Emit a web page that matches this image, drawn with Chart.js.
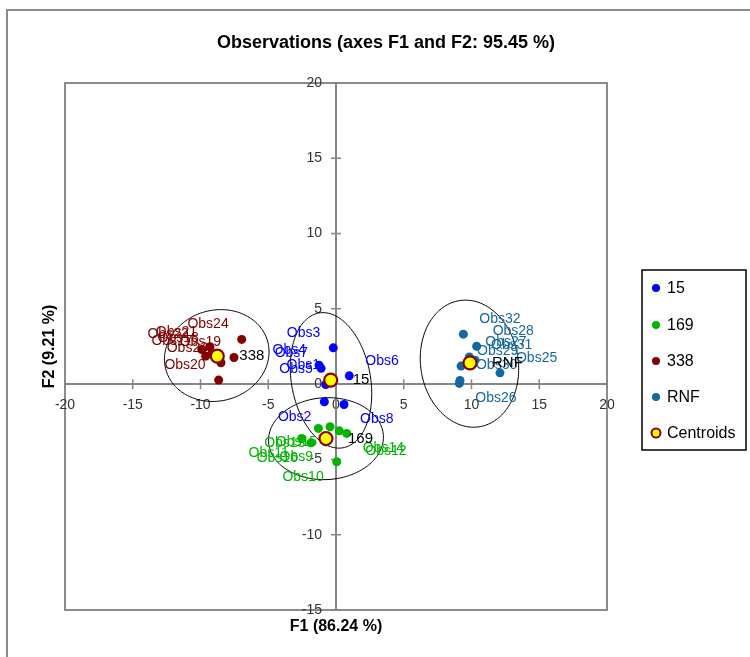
<!DOCTYPE html>
<html>
<head>
<meta charset="utf-8">
<script src="https://cdn.jsdelivr.net/npm/chart.js@4.4.1/dist/chart.umd.min.js"></script>
<style>
  html, body { margin: 0; padding: 0; background: #fff; }
  canvas { display: block; }
</style>
</head>
<body>
<canvas id="chart" width="750" height="657"></canvas>
<script>
// ---- Observations on the first two factorial axes (F1, F2) ----
const groupNames = ['15', '169', '338', 'RNF'];

const obs15 = ['Obs1', 'Obs2', 'Obs3', 'Obs4', 'Obs5', 'Obs6', 'Obs7', 'Obs8'];
const f1_15 = [-0.22, -0.86, -0.20, -1.25, -0.76, 0.98, -1.10, 0.59];
const f2_15 = [0.27, -1.17, 2.41, 1.25, -0.02, 0.55, 1.05, -1.35];

const obs169 = ['Obs9', 'Obs10', 'Obs11', 'Obs12', 'Obs13', 'Obs14', 'Obs15', 'Obs16'];
const f1_169 = [-0.74, 0.05, -2.53, 0.24, -1.30, 0.79, -0.44, -1.85];
const f2_169 = [-3.85, -5.16, -3.61, -3.10, -2.94, -3.27, -2.83, -3.90];

const obs338 = ['Obs17', 'Obs18', 'Obs19', 'Obs20', 'Obs21', 'Obs22', 'Obs23', 'Obs24'];
const f1_338 = [-9.62, -9.17, -7.53, -8.66, -9.30, -9.91, -8.49, -6.96];
const f2_338 = [1.86, 2.04, 1.77, 0.27, 2.48, 2.30, 1.42, 2.97];

const obsRNF = ['Obs25', 'Obs26', 'Obs27', 'Obs28', 'Obs29', 'Obs30', 'Obs31', 'Obs32'];
const f1_RNF = [12.10, 9.10, 9.84, 10.38, 9.23, 9.15, 10.26, 9.40];
const f2_RNF = [0.75, 0.05, 1.81, 2.52, 1.20, 0.25, 1.59, 3.32];

// group centroids
const centroidF1 = [-0.39, -0.74, -8.76, 9.89];
const centroidF2 = [0.27, -3.61, 1.86, 1.41];

// confidence ellipses: centre and two conjugate half-axis vectors, in F1/F2 units
const ellipseC1 = [-0.37, -0.74, -8.80, 9.85];
const ellipseC2 = [0.25, -3.62, 1.90, 1.36];
const ellipseU1 = [-0.59, 4.24, 3.84, -0.30];
const ellipseU2 = [4.50, 0.10, 0.55, 4.22];
const ellipseV1 = [2.95, 0.00, -0.39, 3.62];
const ellipseV2 = [0.00, 2.72, 3.00, 0.00];

// axis ticks
const xTicks = [-20, -15, -10, -5, 0, 5, 10, 15, 20];
const yTicks = [-15, -10, -5, 0, 5, 10, 15, 20];

// where each observation label sits relative to its point
const place15  = ['ul', 'll', 'ul', 'ul', 'ul', 'ur', 'ul', 'lr'];
const place169 = ['ll', 'll', 'll', 'lrFar', 'll', 'lr', 'll', 'll'];
const place338 = ['ul', 'ul', 'ul', 'ul', 'ul', 'ul', 'ul', 'ul'];
const placeRNF = ['ur', 'lr', 'ur', 'ur', 'ur', 'ur', 'ur', 'ur'];

// ---- styling ----
const FONT = "'Liberation Sans', Arial, sans-serif";
const groupColors = ['#0000FF', '#00B400', '#800000', '#1468A0'];
const labelOffsets = {
  ul: [-13, -15, 'right'],
  ur: [16, -15, 'left'],
  ll: [-13, 15, 'right'],
  lr: [16, 15, 'left'],
  lrFar: [26, 20, 'left']
};
const AXIS_GREY = '#868686';
const TICK_TEXT = '#333';

const groups = [
  { names: obs15, f1: f1_15, f2: f2_15, place: place15 },
  { names: obs169, f1: f1_169, f2: f2_169, place: place169 },
  { names: obs338, f1: f1_338, f2: f2_338, place: place338 },
  { names: obsRNF, f1: f1_RNF, f2: f2_RNF, place: placeRNF }
];

const toPoints = (xs, ys) => xs.map((x, i) => ({ x, y: ys[i] }));

const datasets = groups.map((g, i) => ({
  label: groupNames[i],
  data: toPoints(g.f1, g.f2),
  backgroundColor: groupColors[i],
  borderColor: groupColors[i],
  pointRadius: 4.5,
  pointBorderWidth: 0,
  pointHoverRadius: 4.5,
  order: 0
}));
datasets.push({
  label: 'Centroids',
  data: toPoints(centroidF1, centroidF2),
  backgroundColor: '#FFFF00',
  borderColor: '#8B0000',
  pointRadius: 6.5,
  pointBorderWidth: 2.2,
  pointHoverRadius: 6.5,
  order: -1
});

const decorations = {
  id: 'decorations',
  beforeDraw(chart) {
    const { ctx, chartArea: a } = chart;
    ctx.save();
    ctx.fillStyle = '#fff';
    ctx.fillRect(0, 0, chart.width, chart.height);
    ctx.strokeStyle = '#8c8c8c';
    ctx.lineWidth = 2;
    ctx.strokeRect(7, 10, 900, 800);
    ctx.strokeRect(a.left, a.top, a.right - a.left, a.bottom - a.top);
    ctx.restore();
  },
  beforeDatasetsDraw(chart) {
    const { ctx } = chart;
    const sx = chart.scales.x, sy = chart.scales.y;
    const x0 = sx.getPixelForValue(0), y0 = sy.getPixelForValue(0);
    ctx.save();
    // tick marks crossing the axes
    ctx.strokeStyle = AXIS_GREY;
    ctx.lineWidth = 1.5;
    ctx.beginPath();
    sx.ticks.forEach(t => {
      const px = sx.getPixelForValue(t.value);
      ctx.moveTo(px, y0 - 5); ctx.lineTo(px, y0 + 5);
    });
    sy.ticks.forEach(t => {
      const py = sy.getPixelForValue(t.value);
      ctx.moveTo(x0 - 5, py); ctx.lineTo(x0 + 5, py);
    });
    ctx.stroke();
    // F2 tick labels, set to the left of the vertical axis
    ctx.fillStyle = TICK_TEXT;
    ctx.font = '14px ' + FONT;
    ctx.textAlign = 'right';
    ctx.textBaseline = 'middle';
    sy.ticks.forEach(t => {
      ctx.fillText(String(t.value), x0 - 14, sy.getPixelForValue(t.value));
    });
    // confidence ellipses
    ctx.strokeStyle = '#000';
    ctx.lineWidth = 1;
    for (let k = 0; k < ellipseC1.length; k++) {
      ctx.beginPath();
      for (let s = 0; s <= 180; s++) {
        const t = (s / 180) * Math.PI * 2;
        const fx = ellipseC1[k] + ellipseU1[k] * Math.cos(t) + ellipseV1[k] * Math.sin(t);
        const fy = ellipseC2[k] + ellipseU2[k] * Math.cos(t) + ellipseV2[k] * Math.sin(t);
        const px = sx.getPixelForValue(fx), py = sy.getPixelForValue(fy);
        if (s === 0) ctx.moveTo(px, py); else ctx.lineTo(px, py);
      }
      ctx.closePath();
      ctx.stroke();
    }
    ctx.restore();
  },
  afterDatasetsDraw(chart) {
    const { ctx } = chart;
    ctx.save();
    ctx.textBaseline = 'middle';
    // observation labels
    ctx.font = '14px ' + FONT;
    groups.forEach((g, i) => {
      const meta = chart.getDatasetMeta(i);
      ctx.fillStyle = groupColors[i];
      g.names.forEach((name, j) => {
        const p = meta.data[j];
        const [dx, dy, align] = labelOffsets[g.place[j]];
        ctx.textAlign = align;
        ctx.fillText(name, p.x + dx, p.y + dy);
      });
    });
    // centroid labels
    const cMeta = chart.getDatasetMeta(groups.length);
    ctx.font = '15px ' + FONT;
    ctx.fillStyle = '#000';
    ctx.textAlign = 'left';
    groupNames.forEach((name, i) => {
      const p = cMeta.data[i];
      ctx.fillText(name, p.x + 22, p.y);
    });
    ctx.restore();
  },
  afterDraw(chart) {
    const { ctx, chartArea: a } = chart;
    ctx.save();
    ctx.fillStyle = '#000';
    ctx.textAlign = 'center';
    ctx.textBaseline = 'middle';
    // titles
    ctx.font = 'bold 18px ' + FONT;
    ctx.fillText('Observations (axes F1 and F2: 95.45 %)', 386, 43);
    ctx.font = 'bold 16px ' + FONT;
    ctx.fillText('F1 (86.24 %)', (a.left + a.right) / 2, 627);
    ctx.save();
    ctx.translate(50, (a.top + a.bottom) / 2);
    ctx.rotate(-Math.PI / 2);
    ctx.fillText('F2 (9.21 %)', 0, 0);
    ctx.restore();

    // legend
    const lx = 642, ly = 270, lw = 104, lh = 180;
    ctx.strokeStyle = '#000';
    ctx.lineWidth = 1.5;
    ctx.strokeRect(lx, ly, lw, lh);
    const rowY = [288, 325, 361, 397, 433];
    ctx.textAlign = 'left';
    ctx.font = '16px ' + FONT;
    chart.data.datasets.forEach((ds, i) => {
      const y = rowY[i];
      ctx.beginPath();
      if (ds.label === 'Centroids') {
        ctx.arc(656, y, 4.5, 0, Math.PI * 2);
        ctx.fillStyle = ds.backgroundColor;
        ctx.fill();
        ctx.strokeStyle = ds.borderColor;
        ctx.lineWidth = 2;
        ctx.stroke();
      } else {
        ctx.arc(656, y, 4, 0, Math.PI * 2);
        ctx.fillStyle = ds.backgroundColor;
        ctx.fill();
      }
      ctx.fillStyle = '#000';
      ctx.fillText(ds.label, 667, y + 1);
    });
    ctx.restore();
  }
};

const tickFont = { family: FONT, size: 14 };

new Chart(document.getElementById('chart'), {
  type: 'scatter',
  data: { datasets },
  options: {
    responsive: false,
    animation: false,
    devicePixelRatio: 1,
    layout: { padding: { left: 65, top: 83, right: 143, bottom: 47 } },
    plugins: {
      legend: { display: false },
      title: { display: false },
      tooltip: { enabled: false }
    },
    events: [],
    scales: {
      x: {
        type: 'linear',
        position: { y: 0 },
        min: -20, max: 20,
        afterBuildTicks: scale => { scale.ticks = xTicks.map(v => ({ value: v })); },
        grid: { display: false, drawTicks: false },
        border: { display: true, color: AXIS_GREY, width: 2 },
        ticks: { color: TICK_TEXT, font: tickFont, padding: 13, maxRotation: 0, autoSkip: false }
      },
      y: {
        type: 'linear',
        position: { x: 0 },
        min: -15, max: 20,
        afterBuildTicks: scale => { scale.ticks = yTicks.map(v => ({ value: v })); },
        grid: { display: false, drawTicks: false },
        border: { display: true, color: AXIS_GREY, width: 2 },
        // labels are drawn by the plugin so they can sit clear of the axis line
        ticks: { display: false, autoSkip: false }
      }
    }
  },
  plugins: [decorations]
});
</script>
</body>
</html>
